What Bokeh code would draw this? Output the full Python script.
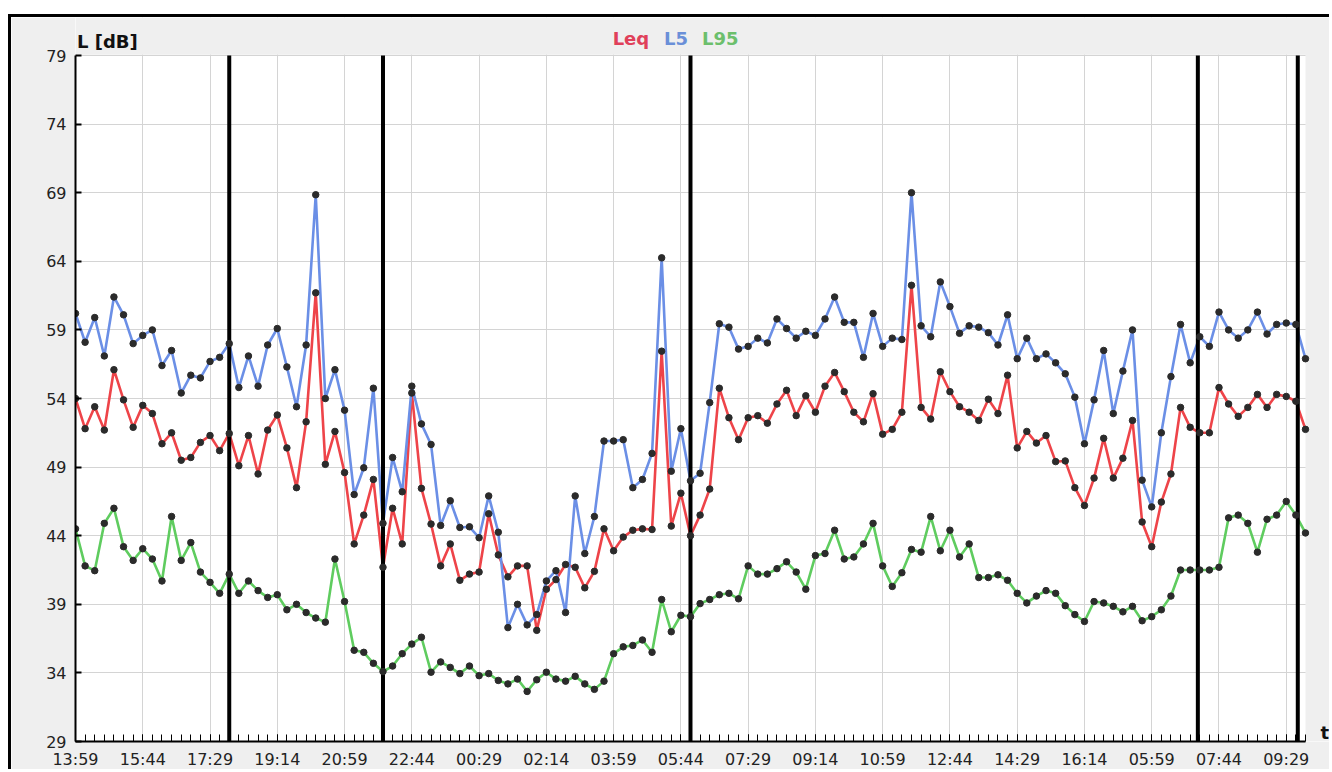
from bokeh.plotting import figure
from bokeh.models import FixedTicker, Label, Range1d, BoxAnnotation
from bokeh.embed import file_html
from bokeh.resources import INLINE

# ---- data ----
tick_labels = ["13:59", "15:44", "17:29", "19:14", "20:59", "22:44", "00:29", "02:14",
               "03:59", "05:44", "07:29", "09:14", "10:59", "12:44", "14:29", "16:14",
               "05:59", "07:44", "09:29"]

leq = [54.0, 51.8, 53.4, 51.7, 56.1, 53.9, 51.9, 53.5, 52.9, 50.7,
       51.5, 49.5, 49.7, 50.8, 51.3, 50.2, 51.45, 49.1, 51.3, 48.5,
       51.7, 52.8, 50.4, 47.5, 52.3, 61.7, 49.2, 51.6, 48.6, 43.4,
       45.5, 48.1, 41.7, 46.0, 43.4, 54.4, 47.45, 44.85, 41.8, 43.4,
       40.75, 41.2, 41.35, 45.6, 42.6, 41.0, 41.8, 41.8, 37.1, 40.1,
       40.8, 41.9, 41.7, 40.2, 41.4, 44.5, 42.9, 43.9, 44.4, 44.5,
       44.45, 57.45, 44.7, 47.1, 44.0, 45.5, 47.4, 54.75, 52.6, 51.0,
       52.6, 52.75, 52.2, 53.6, 54.6, 52.75, 54.2, 53.0, 54.9, 55.9,
       54.5, 53.0, 52.3, 54.35, 51.4, 51.75, 53.0, 62.25, 53.35, 52.5,
       55.95, 54.5, 53.4, 53.0, 52.4, 53.95, 52.9, 55.7, 50.4, 51.6,
       50.75, 51.3, 49.4, 49.45, 47.5, 46.2, 48.2, 51.1, 48.2, 49.65,
       52.4, 45.0, 43.2, 46.45, 48.5, 53.35, 51.9, 51.5, 51.5, 54.8,
       53.6, 52.7, 53.35, 54.3, 53.35, 54.3, 54.15, 53.8, 51.75]

l5 = [60.2, 58.1, 59.9, 57.1, 61.4, 60.1, 58.0, 58.6, 59.0, 56.4,
      57.5, 54.4, 55.7, 55.5, 56.7, 57.0, 58.0, 54.8, 57.1, 54.9,
      57.9, 59.1, 56.3, 53.4, 57.9, 68.85, 54.0, 56.1, 53.15, 47.0,
      48.95, 54.75, 44.9, 49.7, 47.2, 54.9, 52.15, 50.65, 44.75, 46.55,
      44.6, 44.65, 43.85, 46.9, 44.25, 37.3, 39.0, 37.5, 38.25, 40.7,
      41.45, 38.4, 46.9, 42.7, 45.4, 50.9, 50.9, 51.0, 47.5, 48.1,
      50.0, 64.25, 48.7, 51.8, 48.0, 48.55, 53.7, 59.45, 59.2, 57.6,
      57.8, 58.4, 58.05, 59.8, 59.1, 58.4, 58.9, 58.6, 59.8, 61.4,
      59.55, 59.55, 57.0, 60.2, 57.8, 58.4, 58.3, 69.0, 59.3, 58.5,
      62.5, 60.7, 58.75, 59.3, 59.2, 58.8, 57.9, 60.1, 56.9, 58.4,
      56.9, 57.25, 56.6, 55.8, 54.1, 50.7, 53.9, 57.5, 52.9, 56.0,
      59.0, 48.05, 46.1, 51.5, 55.6, 59.4, 56.6, 58.5, 57.8, 60.3,
      59.0, 58.4, 59.0, 60.3, 58.7, 59.4, 59.5, 59.4, 56.9]

l95 = [44.5, 41.8, 41.45, 44.9, 46.0, 43.2, 42.2, 43.05, 42.3, 40.7,
       45.4, 42.2, 43.5, 41.35, 40.6, 39.8, 41.2, 39.8, 40.7, 40.0,
       39.5, 39.7, 38.6, 39.0, 38.4, 38.0, 37.7, 42.3, 39.2, 35.65,
       35.5, 34.7, 34.1, 34.5, 35.4, 36.1, 36.6, 34.05, 34.8, 34.4,
       33.95, 34.5, 33.8, 33.95, 33.45, 33.2, 33.55, 32.65, 33.5, 34.05,
       33.55, 33.4, 33.75, 33.2, 32.8, 33.4, 35.4, 35.9, 36.0, 36.4,
       35.5, 39.35, 37.0, 38.2, 38.1, 39.05, 39.35, 39.7, 39.8, 39.4,
       41.8, 41.2, 41.2, 41.6, 42.1, 41.35, 40.1, 42.55, 42.7, 44.4,
       42.3, 42.45, 43.4, 44.9, 41.8, 40.3, 41.3, 43.0, 42.8, 45.4,
       42.9, 44.4, 42.45, 43.4, 40.95, 40.95, 41.15, 40.75, 39.8, 39.1,
       39.6, 40.0, 39.8, 38.9, 38.25, 37.75, 39.2, 39.1, 38.85, 38.45,
       38.85, 37.8, 38.1, 38.6, 39.6, 41.5, 41.5, 41.5, 41.5, 41.7,
       45.3, 45.5, 44.9, 42.8, 45.2, 45.5, 46.5, 45.5, 44.2]

period_marks = [16, 32, 64, 116.8, 127.2]
y_ticks = [29, 34, 39, 44, 49, 54, 59, 64, 69, 74, 79]

n = len(leq)
xs = list(range(n))
x_last = n - 1
major_idx = [7 * k for k in range(len(tick_labels))]

Y_MIN, Y_MAX = 29, 79
PX_X = 9.6      # pixels per sample
PX_Y = 13.72    # pixels per dB
x_end = x_last + 27 / PX_X          # frame runs to the right edge of the canvas
y_end = Y_MAX + 38 / PX_Y           # frame runs to the top edge of the canvas

# ---- figure ----
p = figure(width=1321, height=755, output_backend="svg", toolbar_location=None,
           x_range=Range1d(0, x_end), y_range=Range1d(Y_MIN, y_end),
           min_border_left=64, min_border_right=0, min_border_top=0,
           min_border_bottom=31)
p.styles = {"margin-left": "8px", "margin-top": "14px",
            "border-left": "3px solid #000", "border-top": "3px solid #000"}
BG = "#efefef"
p.border_fill_color = BG
p.background_fill_color = "white"
p.outline_line_color = None

font = "DejaVu Sans"

# grey band above the chart area and to its right (part of the panel background)
p.add_layout(BoxAnnotation(bottom=Y_MAX + 0.05, fill_color=BG, fill_alpha=1,
                           line_color=None, level="underlay"))
p.add_layout(BoxAnnotation(left=x_last, fill_color=BG, fill_alpha=1,
                           line_color=None, level="underlay"))

# axes
p.yaxis.ticker = FixedTicker(ticks=y_ticks)
p.yaxis.bounds = (Y_MIN, Y_MAX)
p.yaxis.axis_line_width = 2
p.yaxis.axis_line_color = "#000"
p.yaxis.major_tick_in = 6
p.yaxis.major_tick_out = 0
p.yaxis.major_tick_line_width = 2
p.yaxis.minor_tick_line_color = None
p.yaxis.major_label_text_font = font
p.yaxis.major_label_text_font_size = "16px"
p.yaxis.major_label_text_color = "#222"
p.yaxis.major_label_standoff = 9

p.xaxis.ticker = FixedTicker(ticks=major_idx, minor_ticks=xs)
p.xaxis.bounds = (0, x_last)
p.xaxis.major_label_overrides = {i: lab for i, lab in zip(major_idx, tick_labels)}
p.xaxis.axis_line_width = 2
p.xaxis.axis_line_color = "#000"
p.xaxis.major_tick_in = 7
p.xaxis.major_tick_out = 0
p.xaxis.minor_tick_in = 7
p.xaxis.minor_tick_out = 0
p.xaxis.major_tick_line_color = "#000"
p.xaxis.minor_tick_line_color = "#000"
p.xaxis.major_label_text_font = font
p.xaxis.major_label_text_font_size = "16px"
p.xaxis.major_label_text_color = "#222"
p.xaxis.major_label_standoff = 8

p.xgrid.ticker = FixedTicker(ticks=major_idx)
p.ygrid.ticker = FixedTicker(ticks=y_ticks)
p.xgrid.grid_line_color = "#d4d4d4"
p.ygrid.grid_line_color = "#d4d4d4"

# series
p.line(xs, l95, line_color="#5fcc5f", line_width=2.6)
p.line(xs, leq, line_color="#ee4449", line_width=2.6)
p.line(xs, l5, line_color="#6b8fe6", line_width=2.6)

# period boundaries
p.segment(x0=period_marks, x1=period_marks, y0=[Y_MIN] * len(period_marks),
          y1=[Y_MAX] * len(period_marks), line_color="#000", line_width=4)

for ser in (l95, leq, l5):
    p.scatter(xs, ser, size=6.5, marker="circle", fill_color="#2b2b2b", line_color="#2b2b2b")

# texts
def lab(x, y, text, color):
    p.add_layout(Label(x=x, y=y, text=text, text_font=font, text_font_style="bold",
                       text_font_size="18px", text_color=color,
                       text_baseline="alphabetic"))

lab(1.5 / PX_X, Y_MAX + 14 / PX_Y, "L [dB]", "#111")
lab(55.9, Y_MAX + 17 / PX_Y, "Leq", "#e0405a")
lab(61.25, Y_MAX + 17 / PX_Y, "L5", "#6a8fd8")
lab(65.2, Y_MAX + 17 / PX_Y, "L95", "#6cbf6c")
lab(x_last + 15 / PX_X, Y_MIN + 9 / PX_Y, "t", "#111")

open("out.html", "w").write(file_html(p, INLINE))
